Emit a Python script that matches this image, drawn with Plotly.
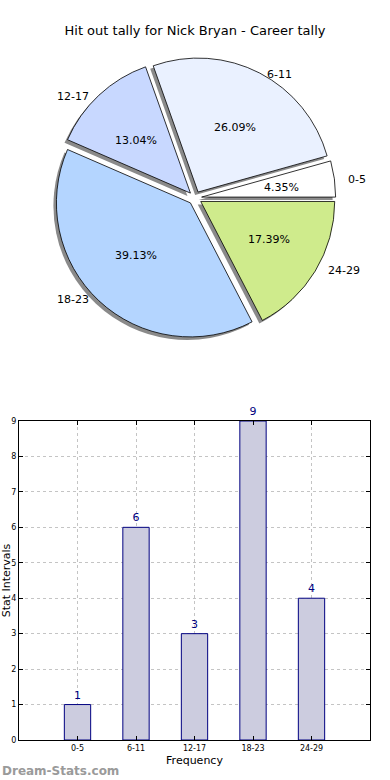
import math
import plotly.graph_objects as go

categories = ["0-5", "6-11", "12-17", "18-23", "24-29"]
counts = [1, 6, 3, 9, 4]
pie_colors = ["#ffffff", "#eaf1ff", "#c8d8ff", "#b4d5ff", "#cfeb8c"]
title_text = "Hit out tally for Nick Bryan - Career tally"

W, H = 390, 780
FONT = "DejaVu Sans"

def fx(X):
    return X / W

def fy(Y):
    return 1 - Y / H

# pie geometry (window pixels); the original pie is slightly squashed vertically
CX, CY, R = 195, 198, 134
SQ = 0.91
PULL = 0.05
side = 2 * R * (1 + PULL)
dom_x = [fx(CX - side / 2), fx(CX + side / 2)]
dom_y = [fy(CY + side / 2), fy(CY - side / 2)]
sh = 3
shadow_x = [fx(CX - side / 2 - sh), fx(CX + side / 2 - sh)]
shadow_y = [fy(CY + side / 2 + sh), fy(CY - side / 2 + sh)]

total = sum(counts)
start_rot = 90 - 360 * counts[0] / total

fig = go.Figure()

fig.add_trace(go.Pie(
    labels=categories, values=counts, sort=False, direction="counterclockwise",
    rotation=start_rot, pull=[PULL] * 5, domain=dict(x=shadow_x, y=shadow_y),
    marker=dict(colors=["#8a8a8a"] * 5, line=dict(width=0)),
    textinfo="none", hoverinfo="skip", showlegend=False,
))
fig.add_trace(go.Pie(
    labels=categories, values=counts, sort=False, direction="counterclockwise",
    rotation=start_rot, pull=[PULL] * 5, domain=dict(x=dom_x, y=dom_y),
    marker=dict(colors=pie_colors, line=dict(color="#000000", width=0.8)),
    textinfo="none", showlegend=False,
))

annotations = []
cum = 0
for cat, c in zip(categories, counts):
    mid = (cum + c / 2) / total * 2 * math.pi
    cum += c
    cs, sn = math.cos(mid), math.sin(mid)
    d = 1.14 * R
    annotations.append(dict(
        text=cat, x=fx(CX + d * cs), y=fy(CY - d * sn * SQ), xref="paper", yref="paper",
        xanchor="left" if cs > 0 else "right", yanchor="middle", showarrow=False,
        font=dict(family=FONT, size=11, color="black")))
    dp = 0.65 * R
    annotations.append(dict(
        text=f"{100 * c / total:.2f}%", x=fx(CX + dp * cs), y=fy(CY - dp * sn * SQ),
        xref="paper", yref="paper", xanchor="center", yanchor="middle", showarrow=False,
        font=dict(family=FONT, size=11, color="black")))

annotations.append(dict(
    text="<b>Dream-Stats.com</b>", x=0, y=fy(771), xref="paper", yref="paper",
    xanchor="left", yanchor="middle", showarrow=False,
    font=dict(family=FONT, size=12, color="#9a9a9a")))

fig.add_trace(go.Bar(
    x=categories, y=counts, width=0.45,
    marker=dict(color="#ccccdf", line=dict(color="#000080", width=1)),
    text=[str(c) for c in counts], textposition="outside",
    textfont=dict(family=FONT, size=11, color="#000080"),
    cliponaxis=False, showlegend=False,
))

axis_common = dict(
    showline=True, linecolor="black", linewidth=1, mirror="ticks",
    ticks="inside", ticklen=4, tickcolor="black",
    showgrid=True, gridcolor="#c4c4c4", griddash="dot", gridwidth=1,
    zeroline=False, tickfont=dict(family=FONT, size=8, color="black"),
    automargin=False,
)

fig.update_layout(
    width=W, height=H,
    margin=dict(l=0, r=0, t=0, b=0),
    paper_bgcolor="white", plot_bgcolor="white",
    font=dict(family=FONT, color="black"),
    title=dict(text=title_text, x=fx(195), xanchor="center", y=fy(30), yanchor="middle",
               font=dict(family=FONT, size=13, color="black")),
    xaxis=dict(domain=[fx(19), fx(370)], range=[-1, 5], type="category",
               title=dict(text="Frequency", font=dict(family=FONT, size=11, color="black"), standoff=4),
               **axis_common),
    yaxis=dict(domain=[fy(740), fy(421)], range=[0, 9], dtick=1,
               title=dict(text="Stat Intervals", font=dict(family=FONT, size=11, color="black"), standoff=6),
               **axis_common),
    annotations=annotations,
)

fig.write_html(
    "out.html",
    config={"displayModeBar": False},
    post_script="document.body.style.margin='0';document.body.style.overflow='hidden';",
)
